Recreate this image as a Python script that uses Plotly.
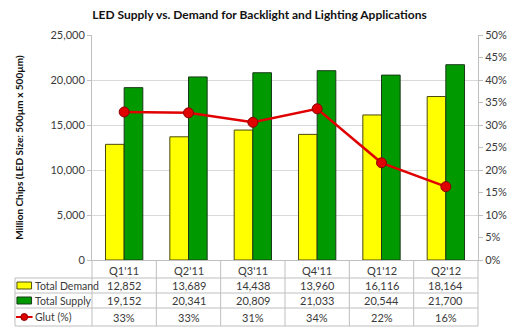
import plotly.graph_objects as go

categories = ["Q1'11", "Q2'11", "Q3'11", "Q4'11", "Q1'12", "Q2'12"]
demand = [12852, 13689, 14438, 13960, 16116, 18164]
supply = [19152, 20341, 20809, 21033, 20544, 21700]
glut = [0.329, 0.327, 0.306, 0.336, 0.216, 0.163]
row_labels = ["Total Demand", "Total Supply", "Glut (%)"]

FONT = "Lato"
TXT = "#3a3a3a"
GRID = "#D9D9D9"
AX = "#BFBFBF"
YEL = "#FFFF00"
GRN = "#009A00"
RED = "#E00000"

# layout geometry (px)
W, H = 519, 331
L, R, T, B = 92, 31, 35, 71
PH = H - T - B
PW = W - L - R

def py(y):
    return (H - B - y) / PH

def px(x):
    return (x - L) / PW

fig = go.Figure()
fig.add_trace(go.Bar(x=categories, y=demand, name="Total Demand",
                     marker=dict(color=YEL, line=dict(color="#4a4a10", width=1))))
fig.add_trace(go.Bar(x=categories, y=supply, name="Total Supply",
                     marker=dict(color=GRN, line=dict(color="#1a3a1a", width=1))))
fig.add_trace(go.Scatter(x=categories, y=glut, name="Glut (%)", yaxis="y2",
                         mode="lines+markers",
                         line=dict(color=RED, width=2.5),
                         marker=dict(size=10, color=RED, line=dict(color="#8a0000", width=1))))

shapes = []
annotations = []

row_edges = [278, 293, 308, 326]
header_y = 270

for i, c in enumerate(categories):
    annotations.append(dict(x=c, xref="x", y=py(header_y), yref="paper", text=c,
                            xanchor="center", yanchor="middle",
                            showarrow=False, font=dict(family=FONT, size=11, color=TXT)))
    vals = [f"{demand[i]:,}", f"{supply[i]:,}", f"{round(glut[i]*100):.0f}%"]
    for r, v in enumerate(vals):
        yc = (row_edges[r] + row_edges[r + 1]) / 2
        annotations.append(dict(x=c, xref="x", y=py(yc), yref="paper", text=v,
                                xanchor="center", yanchor="middle",
                                showarrow=False, font=dict(family=FONT, size=11, color=TXT)))

for r, lab in enumerate(row_labels):
    yc = (row_edges[r] + row_edges[r + 1]) / 2
    annotations.append(dict(x=px(31), xref="paper", y=py(yc), yref="paper", text=lab,
                            xanchor="left", yanchor="middle", showarrow=False,
                            font=dict(family=FONT, size=10.5, color=TXT)))

# legend keys
shapes.append(dict(type="rect", xref="paper", yref="paper", x0=px(15), x1=px(30),
                   y0=py(289), y1=py(282), fillcolor=YEL, line=dict(color="#4a4a10", width=1)))
shapes.append(dict(type="rect", xref="paper", yref="paper", x0=px(15), x1=px(30),
                   y0=py(304), y1=py(297), fillcolor=GRN, line=dict(color="#1a3a1a", width=1)))
shapes.append(dict(type="line", xref="paper", yref="paper", x0=px(14), x1=px(31),
                   y0=py(317), y1=py(317), line=dict(color=RED, width=2)))
shapes.append(dict(type="circle", xref="paper", yref="paper", x0=px(19), x1=px(26),
                   y0=py(320.5), y1=py(313.5), fillcolor=RED, line=dict(color="#8a0000", width=1)))

# table grid lines
for e in row_edges:
    shapes.append(dict(type="line", xref="paper", yref="paper", x0=px(13), x1=1,
                       y0=py(e), y1=py(e), line=dict(color=AX, width=1)))
shapes.append(dict(type="line", xref="paper", yref="paper", x0=px(13), x1=px(13),
                   y0=py(278), y1=py(326), line=dict(color=AX, width=1)))
for k in range(7):
    shapes.append(dict(type="line", xref="paper", yref="paper", x0=k / 6, x1=k / 6,
                       y0=0, y1=py(326), line=dict(color=AX, width=1)))

fig.update_layout(
    width=W, height=H,
    margin=dict(l=L, r=R, t=T, b=B, pad=0),
    paper_bgcolor="white", plot_bgcolor="white",
    barmode="group", bargap=0.42, bargroupgap=0,
    showlegend=False,
    title=dict(text="<b>LED Supply vs. Demand for Backlight and Lighting Applications</b>",
               x=0.5, xanchor="center", y=1 - 15 / H, yanchor="middle",
               font=dict(family=FONT, size=12, color="#111")),
    font=dict(family=FONT, color=TXT),
    xaxis=dict(showticklabels=False, ticks="", showgrid=False, showline=True,
               linecolor=AX, linewidth=1, range=[-0.5, 5.5]),
    yaxis=dict(range=[0, 25000], dtick=5000, tickformat=",", showgrid=True,
               gridcolor=GRID, gridwidth=1, showline=True, linecolor=AX, linewidth=1,
               ticks="outside", ticklen=4, tickcolor=AX, zeroline=False,
               tickfont=dict(family=FONT, size=11, color=TXT),
               title=dict(text="<b>Million Chips (LED Size: 500µm x 500µm)</b>",
                          font=dict(family=FONT, size=10, color="#111"), standoff=24)),
    yaxis2=dict(range=[0, 0.5], dtick=0.05, tickformat=".0%", overlaying="y", side="right",
                showgrid=False, showline=True, linecolor=AX, linewidth=1,
                ticks="outside", ticklen=4, tickcolor=AX, zeroline=False,
                tickfont=dict(family=FONT, size=11, color=TXT)),
    shapes=shapes,
    annotations=annotations,
)

fig.write_html("out.html")
